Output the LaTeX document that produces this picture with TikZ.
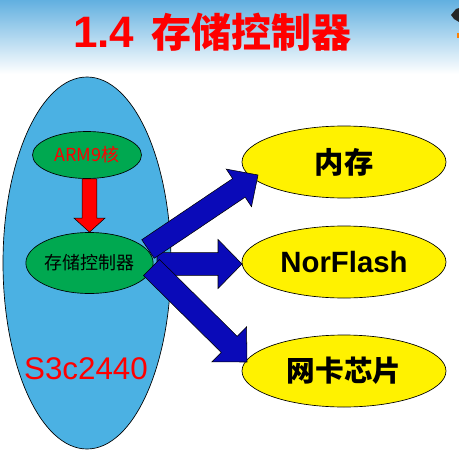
\documentclass[tikz,border=0pt]{standalone}
\usepackage{fontspec}
\setmainfont{Liberation Sans}
\newfontfamily\cjk{Noto Sans CJK SC}
\usetikzlibrary{shapes.geometric,calc}
\definecolor{bgblue}{RGB}{98,176,224}
\definecolor{chipblue}{RGB}{75,177,227}
\definecolor{ctrlgreen}{RGB}{0,168,80}
\definecolor{arrowblue}{RGB}{10,10,184}
\newcommand\fatarrow[6]{%
  \coordinate (fatH) at ($(#3)!#6!(#2)$);
  \draw[#1] ($(#2)!#4!90:(#3)$) -- ($(fatH)!#4!90:(#3)$) -- ($(fatH)!#5!90:(#3)$)
    -- (#3) -- ($(fatH)!#5!-90:(#3)$) -- ($(fatH)!#4!-90:(#3)$) -- ($(#2)!#4!-90:(#3)$) -- cycle;}
\begin{document}
\begin{tikzpicture}[x=0.75pt,y=-0.75pt,
  chip/.style={ellipse,draw=black,line width=0.5pt,fill=chipblue,inner sep=0pt,minimum width=126pt,minimum height=279pt},
  core/.style={ellipse,draw=black,line width=0.5pt,fill=ctrlgreen,inner sep=0pt},
  dev/.style={ellipse,draw=black,line width=0.5pt,fill=yellow,inner sep=0pt,minimum width=153pt,minimum height=54pt},
  redarrow/.style={fill=red,draw=black,line width=0.4pt,line join=miter},
  bluearrow/.style={fill=arrowblue,draw=black,line width=0.4pt,line join=miter}]
\useasboundingbox (0,0) rectangle (459,460);
\fill[white] (0,0) rectangle (459,460);
\shade[top color=bgblue,bottom color=white] (0,0) rectangle (459,74);
% corner fragment
\fill[black!85] (451,15) -- (456,9) -- (459,8) -- (459,22) -- (454,19) -- cycle;
\fill[orange] (457,33) rectangle (459,38);
% title
\node[anchor=base west,inner sep=0pt,text=red] (title) at (73,48)
  {\fontsize{33pt}{33pt}\selectfont\bfseries 1.4 \hspace{4pt}{\cjk\bfseries\fontsize{30pt}{30pt}\selectfont 存储控制器}};
% chip
\node[chip] (chip) at (87,263) {};
\node[text=red,inner sep=0pt] (s3c) at (86,369) {\fontsize{23.5pt}{23.5pt}\selectfont S3c2440};
\node[core,minimum width=81.75pt,minimum height=35.25pt,text=red] (arm) at (87,155)
  {\cjk\fontsize{13.5pt}{13.5pt}\selectfont ARM9核};
\node[core,minimum width=95.25pt,minimum height=45.75pt] (ctrl) at (89.5,263)
  {\cjk\fontsize{13.5pt}{13.5pt}\selectfont 存储控制器};
% devices
\node[dev] (mem) at (344,162) {\cjk\bfseries\fontsize{22pt}{22pt}\selectfont 内存};
\node[dev] (nor) at (344,262) {\bfseries\fontsize{22pt}{22pt}\selectfont NorFlash};
\node[dev] (net) at (344,371) {\cjk\bfseries\fontsize{21.5pt}{21.5pt}\selectfont 网卡芯片};
% red arrow
\coordinate (r0) at ($(arm.south)+(2.5,0)$);
\fatarrow{redarrow}{r0}{ctrl.north}{5.6pt}{11.6pt}{10.5pt}
% blue arrows
\coordinate (m0) at ($(ctrl)+(67.5,1)$);
\coordinate (m1) at ($(nor)+(-102,2)$);
\coordinate (u0) at ($(ctrl)+(58.5,-14)$);
\coordinate (u1) at ($(mem)+(-86,13)$);
\coordinate (l0) at ($(ctrl)+(62,4.5)$);
\coordinate (l1) at ($(net)+(-97,-9)$);
\fatarrow{bluearrow}{m0}{m1}{8.6pt}{18.4pt}{18pt}
\fatarrow{bluearrow}{u0}{u1}{8.4pt}{17pt}{17.3pt}
\fatarrow{bluearrow}{l0}{l1}{8.5pt}{18.5pt}{18.8pt}
\end{tikzpicture}
\end{document}
